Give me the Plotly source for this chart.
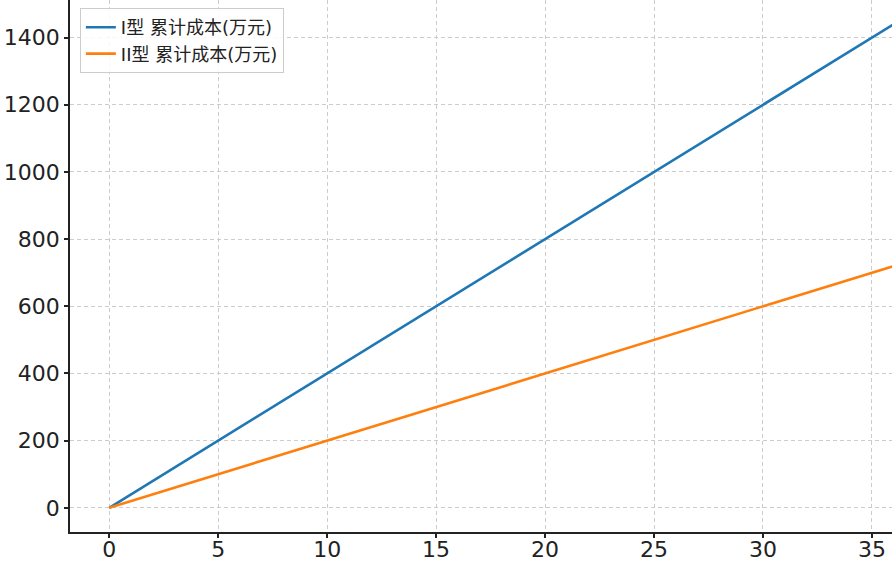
import plotly.graph_objects as go

x_vals = [0, 5, 10, 15, 20, 25, 30, 35, 36]
series_1 = [0, 200, 400, 600, 800, 1000, 1200, 1400, 1440]
series_2 = [0, 100, 200, 300, 400, 500, 600, 700, 720]
names = ["I型 累计成本(万元)", "II型 累计成本(万元)"]
colors = ["#1f77b4", "#ff7f0e"]
x_ticks = [0, 5, 10, 15, 20, 25, 30, 35]
y_ticks = [0, 200, 400, 600, 800, 1000, 1200, 1400]

fig = go.Figure()
for ys, nm, c in zip([series_1, series_2], names, colors):
    fig.add_trace(go.Scatter(x=x_vals, y=ys, mode="lines", name=nm,
                             line=dict(color=c, width=2.6)))

axis_common = dict(showgrid=True, gridcolor="#cccccc", griddash="4px,3px", gridwidth=1,
                   zeroline=False, showline=True, linecolor="#222222", linewidth=1.5,
                   ticks="outside", ticklen=4, tickwidth=1.5, tickcolor="#222222",
                   automargin=False,
                   tickfont=dict(family="DejaVu Sans", size=22, color="#222222"))

fig.update_layout(
    width=892, height=568,
    margin=dict(l=70, r=0, t=0, b=36, pad=0),
    plot_bgcolor="white", paper_bgcolor="white",
    xaxis=dict(range=[-1.8, 35.92], tickvals=x_ticks, ticklabelstandoff=-7, **axis_common),
    yaxis=dict(range=[-72, 1512], tickvals=y_ticks, **axis_common),
    legend=dict(x=0.012, y=0.985, xanchor="left", yanchor="top",
                bgcolor="rgba(255,255,255,0.85)", bordercolor="#cccccc", borderwidth=1,
                font=dict(family="DejaVu Sans, Noto Sans CJK SC", size=18, color="#222222")),
    showlegend=True,
)

fig.write_html("out.html", config={"displayModeBar": False},
               post_script="document.body.style.margin='0';document.body.style.overflow='hidden';")
